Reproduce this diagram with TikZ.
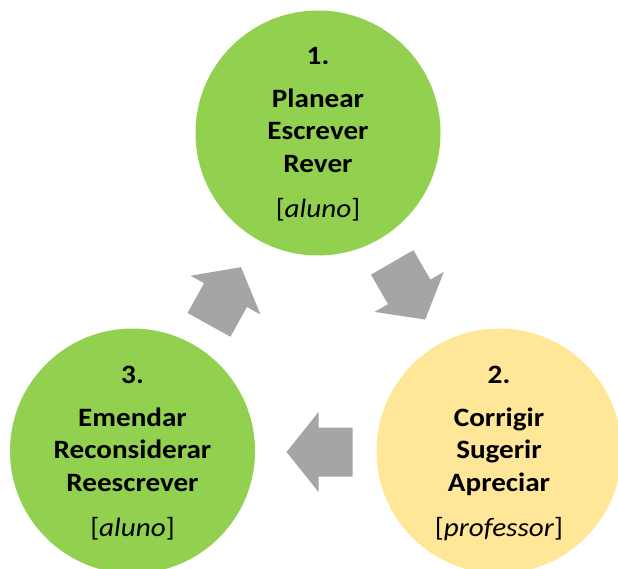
\documentclass[tikz,border=0pt]{standalone}
\usepackage{fontspec}
\setmainfont[FakeStretch=1.1]{Carlito}
\definecolor{cgreen}{HTML}{92D050}
\definecolor{cyellow}{HTML}{FFE699}
\definecolor{cgray}{HTML}{A5A5A5}
\newcommand\stagetext[6]{%
  \node[lbl] (#1num) at ([yshift=68pt]#1.center) {#2};
  \node[lbl] (#1a) at ([yshift=25pt]#1.center) {#3};
  \node[lbl] (#1b) at ([yshift=-7pt]#1.center) {#4};
  \node[lbl] (#1c) at ([yshift=-40pt]#1.center) {#5};
  \node[role] (#1role) at ([yshift=-85pt]#1.center) {[\textit{#6}]};
}
\newcommand\blockarrow[3]{%
  \fill[cgray, shift={#1}, rotate=#2] (-33,-24.5) -- (1,-24.5) -- (1,-40) -- (33,0) -- (1,40) -- (1,24.5) -- (-33,24.5) -- cycle;
}
\begin{document}
\begin{tikzpicture}[x=1pt,y=-1pt,
  stage/.style={circle, draw=none, inner sep=0pt, minimum size=245pt},
  lbl/.style={anchor=base, inner sep=0pt, font=\fontsize{26.5}{32}\selectfont\bfseries},
  role/.style={anchor=base, inner sep=0pt, font=\fontsize{26.5}{32}\selectfont}]
\useasboundingbox (0,0) rectangle (618,569);
\clip (0,0) rectangle (618,569);
\node[stage, fill=cgreen] (c1) at (318,133) {};
\node[stage, fill=cyellow] (c2) at (499,451) {};
\node[stage, fill=cgreen] (c3) at (132.5,451) {};
\stagetext{c1}{1.}{Planear}{Escrever}{Rever}{aluno}
\stagetext{c2}{2.}{Corrigir}{Sugerir}{Apreciar}{professor}
\stagetext{c3}{3.}{Emendar}{Reconsiderar}{Reescrever}{aluno}
\blockarrow{(225,296)}{61}{}
\blockarrow{(408.7,291)}{-60}{}
\blockarrow{(319.5,452)}{180}{}
\end{tikzpicture}
\end{document}
